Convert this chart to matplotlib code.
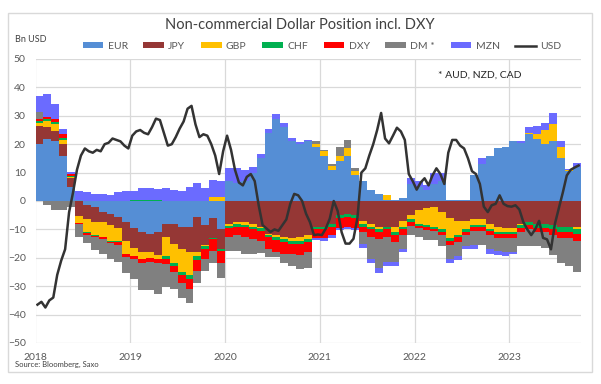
import matplotlib
matplotlib.use("Agg")
import matplotlib.pyplot as plt
from matplotlib.patches import Patch, Rectangle
from matplotlib.lines import Line2D
import numpy as np

plt.rcParams['font.family'] = ['Lato', 'DejaVu Sans']

# Monthly data, Jan 2018 .. Sep 2023 (Bn USD)
start_year = 2018
EUR = [20, 22, 21, 16, 5, 0.5, -1.5, -2, -4, -4.5, -5.5, -7.5,
       -9.5, -11, -11.5, -11, -8, -8, -9, -9, -5.5, -8.5, -6, -10,
       7, 6.5, 7, 10, 15, 24, 29, 26, 21, 20, 21, 19,
       16, 11, 14, 16, 9, 7, 4, 2.5, 0.5, 0.5, 1, 6,
       5, 4, 6, 7, 0.3, 0.3, 0.5, 9, 13, 16, 18.5, 19,
       21, 20.5, 23.5, 22, 20, 21, 15, 10.5, 12]
JPY = [6.5, 4, 3.5, 4, 3, -5.3, -4.7, -5.5, -3.5, -4, -4, -6.5,
       -7, -7, -6.5, -8, -4.5, -7, -8, -9, -12.5, -7, -7, -7,
       -8, -7.5, -7.5, -8, -9, -11.5, -12, -12.5, -13, -12.5, -12, -9,
       -9, -8, -5, -4.5, -5, -7, -8, -9, -9, -9, -7, -5,
       -3, -2.5, -2, -4, -6, -7, -7, -6.5, -6.5, -8, -9, -9.5,
       -9.5, -8, -7.5, -8, -8, -8.5, -9, -9, -9]
GBP = [1, 2, 2.5, 1.5, 0.3, -2.5, -4.8, -4.5, -5, -5.5, -4.5, -4.5,
       -3, -2.5, -2, -1.5, -7, -7, -8, -8, -1.5, -0.5, 1.5, 1.5,
       -0.8, -0.7, -0.8, -1, -0.5, -0.3, -0.8, -1, -1, -1.5, -1.5, 1.2,
       1.5, 1.5, 2, 2.5, 1.5, -1, -1, -1, 1.5, -2, -2, -1.5,
       -5, -6, -7, -6, -7, -5, -3, -2, -2, -2, -2, -1.5,
       -1.5, -0.5, 0.5, 1.5, 5, 6, 4, 0.5, -1]
CHF = [0.5, 0.7, 0.7, 0.7, 0.5, 0, -0.3, -0.3, -0.3, -0.3, -0.5, -0.3,
       0.5, 0.5, 0.5, 0.4, -0.8, -1, -1.2, -1.5, -1.2, -0.8, -0.5, -0.5,
       -0.8, -0.8, -1, -1, -1.2, -1, -1, -1, -1, -1, -1, -1,
       -1, -1, -1, -1, -1, -1, -1, -1, -1, -1, -1, -0.8,
       -0.8, -0.8, -0.8, -1, -1, -0.8, -0.8, -0.5, -0.5, -0.5, -0.5, -0.5,
       -0.5, -1, -1, -1.5, -1.5, -1.5, -2, -2, -1.5]
DXY = [1, 1, 1, 1.5, 0.8, -0.3, -0.5, -0.5, -0.5, -0.5, -1, -1,
       -1, -1.2, -1.5, -1.2, -2, -2, -2.5, -3.5, -4, -3.5, -4, -4.5,
       -3, -3, -3.5, -3.5, -3.5, -4, -4, -4, -3.5, -4, -3.5, -3,
       -3, -3, -3.5, -3.5, -3.5, -2, -2.5, -2.5, -2.5, -2.5, -2, -1.5,
       -0.8, -0.8, -0.8, -1, -1.5, -1.5, -1, -1.5, -1.5, -1.5, -1.5, -1.5,
       -1.5, -1.5, -1.5, -1.5, -1.5, -2, -2, -2, -2.5]
DM = [2.5, -1.5, -3, -3, -2, -4.5, -3, -4.5, -5.5, -5.5, -6, -5.5,
      -7, -9.5, -10, -11, -8, -6, -5.5, -5, -4, -4.5, -4.5, -5,
      -5, -5.5, -6, -5, -4, -3, -2, -3.5, -4.5, -5, -5.5, 1,
      0.3, 0.5, 3, 3, 1, -4, -8, -10, -9, -7, -5, -3,
      -3, -3.5, -3, -4, -5, -5, -4, -5, -5, -5, -4.5, -5,
      -5, -5, -6, -5, -5.5, -7, -9, -10, -11]
MZN = [5.5, 8, 5.5, 1.5, 0.5, 3, 3, 2.5, 2.5, 2, 3, 3.5,
       3, 4, 4, 4, 4.5, 4, 3.5, 5, 6.5, 4.5, 6, 5.5,
       4.5, 5, 4, 2, 1.5, 1.5, 1.5, 1.5, 1.2, 0.8, 0.5, -0.8,
       -1, -1, -0.8, -0.8, -0.8, -1.5, -1.5, -2, -1.5, -1.5, -1, 2,
       2, 1.5, 4, 3, -1.5, -1.5, -1, -1.5, 2, -1.5, -1.5, -1.5,
       -0.5, 0.5, 2, 3, 2.5, 4, 2, 0.3, 1.5]

# Semi-monthly USD position, Jan 2018 .. Sep 2023
USD = [-36.5, -35.5, -37.5, -35, -34, -26, -21, -17, -4, 3, 11, 16,
       18.5, 17.5, 17, 18, 17.5, 20, 20.5, 22, 21.5, 21, 19.5, 18.5,
       23, 24.5, 25, 24, 23.5, 26, 29, 28.5, 24, 19.5, 20, 22.5,
       25.5, 28, 32.5, 33.5, 27, 22.5, 23.5, 23, 20, 16, 9.5, 17.5,
       23, 18, 11, 6.5, 5.5, 8.5, 9.5, 7, -1.5, -8.5, -9.7, -10.9,
       -10, -10.5, -8.5, -6.5, -1, 2.5, 2, 0, -4.5, -7.5, -12, -11.8,
       -12, -9.7, -6.2, 0, -3.5, -11, -15, -15, -13.3, -6, 10, 11.5,
       16, 20, 25, 31, 22, 20.3, 23, 25.8, 24.5, 21.5, 9.5, 7,
       4, 6.5, 8, 5.5, 9, 11.5, 9.5, 6, 17, 21.5, 21.5, 19.5,
       18.5, 15, 10.5, 9.5, 6, -2, -3.9, -1.5, -1, 2, -1, -1.8,
       -2, -1.5, -3, -7.4, -10, -12, -10, -7, -13, -13.5, -17, -8,
       -2.5, 3, 9, 11, 11.8, 12.5]

series = [("EUR", EUR, "#558ED5"), ("JPY", JPY, "#953735"),
          ("GBP", GBP, "#FFC000"), ("CHF", CHF, "#00B050"),
          ("DXY", DXY, "#FF0000"), ("DM *", DM, "#808080"),
          ("MZN", MZN, "#6B6BFF")]

W, H = 601, 384
fig = plt.figure(figsize=(W / 100, H / 100), dpi=100)
ax = fig.add_axes([35.5 / W, 1 - 343 / H, (581 - 35.5) / W, (343 - 59) / H])

n = len(EUR)
x_month = start_year + np.arange(n) / 12.0
pos_base = np.zeros(n)
neg_base = np.zeros(n)
for name, vals, col in series:
    v = np.array(vals, dtype=float)
    bottoms = np.where(v >= 0, pos_base, neg_base)
    ax.bar(x_month, v, width=1 / 12.0, bottom=bottoms, align='edge',
           color=col, linewidth=0, zorder=2)
    pos_base = pos_base + np.where(v >= 0, v, 0)
    neg_base = neg_base + np.where(v < 0, v, 0)

x_usd = start_year + (np.arange(len(USD)) + 0.5) / 24.0
ax.plot(x_usd, USD, color="#333333", linewidth=1.8, zorder=3)

ax.set_xlim(2018, 2018 + (581 - 35.5) / 94.8)
ax.set_ylim(-50, 50)
ax.set_yticks(np.arange(-50, 51, 10))
ax.set_xticks([2018, 2019, 2020, 2021, 2022, 2023])
ax.set_xticklabels(["2018", "2019", "2020", "2021", "2022", "2023"])
ax.grid(True, color="#D9D9D9", linewidth=0.9, zorder=0)
ax.set_axisbelow(True)
for s in ax.spines.values():
    s.set_visible(False)
ax.tick_params(length=0, labelsize=7.5, labelcolor="#595959", pad=7)

handles = [Patch(facecolor=c, edgecolor='none') for _, _, c in series]
handles.append(Line2D([0], [0], color="#333333", linewidth=1.8))
labels = [nm for nm, _, _ in series] + ["USD"]
fig.legend(handles, labels, loc='center', bbox_to_anchor=(322 / W, 1 - 46.5 / H),
           ncol=8, frameon=False, fontsize=7.5, handlelength=2.0,
           handleheight=0.55, handletextpad=0.4, columnspacing=1.5,
           labelcolor="#595959")

fig.text(300 / W, 1 - 25 / H, "Non-commercial Dollar Position incl. DXY",
         ha='center', va='center', fontsize=10.5, color="#404040")
fig.text(15 / W, 1 - 39 / H, "Bn USD", ha='left', va='center', fontsize=6.5,
         color="#404040")
fig.text(479.5 / W, 1 - 75.5 / H, "* AUD, NZD, CAD", ha='center', va='center',
         fontsize=7.5, color="#262626")
fig.text(15 / W, 1 - 364 / H, "Source: Bloomberg, Saxo", ha='left',
         va='center', fontsize=5.5, color="#404040")

fig.patches.append(Rectangle((8 / W, 1 - 372 / H), 584 / W, 359 / H,
                             transform=fig.transFigure, fill=False,
                             edgecolor="#D9D9D9", linewidth=1.0))

fig.savefig("out.png", dpi=100)
